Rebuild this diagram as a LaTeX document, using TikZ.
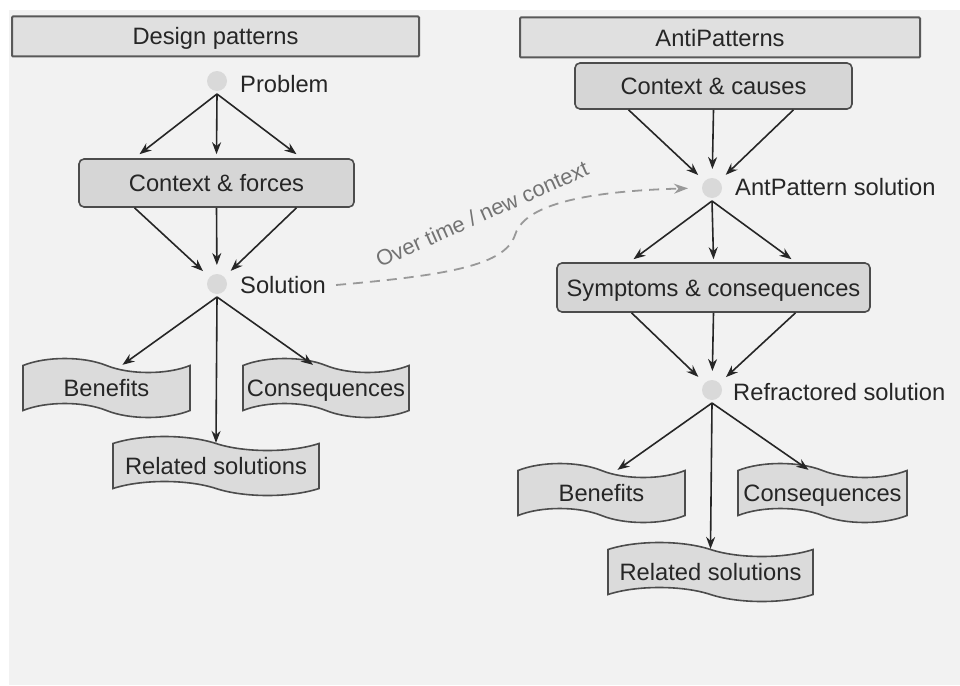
\documentclass[tikz,border=0pt]{standalone}
\usepackage{fontspec}
\setmainfont{Liberation Sans}
\usetikzlibrary{arrows.meta}
\usetikzlibrary{shapes}
\usetikzlibrary{positioning}

\begin{document}
\begin{tikzpicture}[x=1pt, y=-1pt]
            \tikzset{every node/.style={text=black!85, font=\fontsize{23.7pt}{28pt}\selectfont},
                    >={Stealth[length=12pt, width=9pt]},
                    every edge/.style={draw=black!85, line width=1.6pt},
                    header/.style={draw=black!65, line width=2pt, fill=black!12, rounded corners=1pt,
                        inner sep=0pt, text height=17pt, text depth=0pt},
                    box/.style={draw=black!70, line width=1.6pt, fill=black!16, rounded corners=5pt,
                        inner sep=0pt, text height=17pt, text depth=0pt},
                    dot/.style={circle, fill=black!15, minimum size=20pt, inner sep=0pt, outer sep=3pt},
                    banner/.style={tape, draw=black!70, line width=1.6pt, fill=black!14, inner sep=0pt,
                        text height=17pt, text depth=0pt, minimum height=59pt, tape bend height=14pt,
                        tape bend top=out and in, tape bend bottom=out and in}}
            \useasboundingbox (0,0) rectangle (960,685);
            \fill[black!5] (9,10) rectangle (960,685);
            % design patterns
            \node[header, minimum width=407pt, minimum height=40pt] (1) at (215.5, 36.5) {Design patterns};
            \node[dot] (2) at (217, 81) {};
            \node[anchor=west, inner sep=0pt] (3) at (240, 84) {Problem};
            \node[box, minimum width=275pt, minimum height=48pt] (4) at (216.5, 183) {Context \& forces};
            \node[dot] (5) at (217, 284) {};
            \node[anchor=west, inner sep=0pt] (6) at (240, 285) {Solution};
            \node[banner, minimum width=167pt] (7) at (106.5, 388) {Benefits};
            \node[banner, minimum width=166pt] (8) at (326, 388) {Consequences};
            \node[banner, minimum width=206pt] (9) at (216, 466) {Related solutions};
            \path [->] (2.south) edge ([xshift=-77pt, yshift=4pt]4.north);
            \path [->] (2.south) edge ([yshift=4pt]4.north);
            \path [->] (2.south) edge ([xshift=80pt, yshift=4pt]4.north);
            \path [->, shorten >=6pt] ([xshift=-82pt]4.south) edge (5);
            \path [->, shorten >=6pt] (4.south) edge (5);
            \path [->, shorten >=6pt] ([xshift=80pt]4.south) edge (5);
            \path [->] (5.south) edge ([xshift=16pt]7.north);
            \path [->] (5.south) edge (9.north);
            \path [->] (5.south) edge ([xshift=-13pt]8.north);
            % antipatterns
            \node[header, minimum width=400pt, minimum height=40pt] (10) at (720, 37.5) {AntiPatterns};
            \node[box, minimum width=277pt, minimum height=46pt] (11) at (713.5, 86) {Context \& causes};
            \node[dot] (12) at (712, 188) {};
            \node[anchor=west, inner sep=0pt] (13) at (735, 187) {AntPattern solution};
            \node[box, minimum width=313pt, minimum height=49pt] (14) at (713.5, 287.5) {Symptoms \& consequences};
            \node[dot] (15) at (712, 390) {};
            \node[anchor=west, inner sep=0pt] (16) at (733, 392) {Refractored solution};
            \node[banner, minimum width=167pt] (17) at (601.5, 493) {Benefits};
            \node[banner, minimum width=169pt] (18) at (822.5, 493) {Consequences};
            \node[banner, minimum width=205pt] (19) at (710.5, 572) {Related solutions};
            \path [->, shorten >=6pt] ([xshift=-85pt]11.south) edge (12);
            \path [->, shorten >=6pt] (11.south) edge (12);
            \path [->, shorten >=6pt] ([xshift=80pt]11.south) edge (12);
            \path [->] (12.south) edge ([xshift=-80pt, yshift=3pt]14.north);
            \path [->] (12.south) edge ([yshift=3pt]14.north);
            \path [->] (12.south) edge ([xshift=78pt, yshift=3pt]14.north);
            \path [->, shorten >=6pt] ([xshift=-82pt]14.south) edge (15);
            \path [->, shorten >=6pt] (14.south) edge (15);
            \path [->, shorten >=6pt] ([xshift=82pt]14.south) edge (15);
            \path [->] (15.south) edge ([xshift=16pt]17.north);
            \path [->] (15.south) edge (19.north);
            \path [->] (15.south) edge ([xshift=-14pt]18.north);
            % over time
            \draw[black!40, line width=1.8pt, dash pattern=on 10pt off 7pt, -{Stealth[length=14pt, width=10pt]},
                shorten >=11pt] ([xshift=10pt]6.east) .. controls (450, 275) and (505, 265) .. (515, 235)
                .. controls (522, 212) and (560, 192) .. (12.west);
            \node[text=black!55, font=\fontsize{21.9pt}{26pt}\selectfont, rotate=24, inner sep=0pt] (20)
                at (482, 214) {Over time / new context};
\end{tikzpicture}
\end{document}
